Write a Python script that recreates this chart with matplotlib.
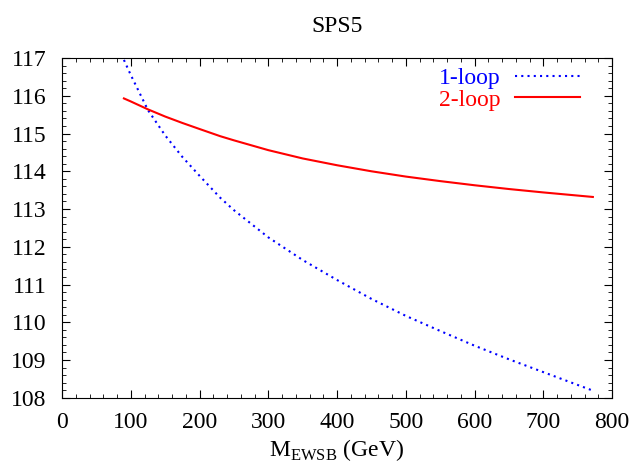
import numpy as np
import matplotlib.pyplot as plt
from matplotlib.ticker import MultipleLocator

plt.rcParams['font.family'] = ['Liberation Serif', 'DejaVu Serif']

# M_EWSB (GeV)
m_ewsb = [90, 100, 125, 150, 175, 200, 230, 250, 300, 350, 400, 450, 500,
          550, 600, 650, 700, 772]
# light Higgs mass (GeV)
one_loop = [116.95, 116.55, 115.62, 114.95, 114.38, 113.88, 113.3, 112.97,
            112.25, 111.65, 111.12, 110.62, 110.17, 109.77, 109.38, 109.02,
            108.68, 108.19]
two_loop = [115.93, 115.85, 115.64, 115.45, 115.28, 115.12, 114.93, 114.82,
            114.56, 114.34, 114.16, 114.0, 113.86, 113.74, 113.63, 113.53,
            113.44, 113.32]

fig = plt.figure(figsize=(6.33, 4.68), dpi=100)
ax = fig.add_axes([0.098, 0.150, 0.869, 0.726])

ax.plot(m_ewsb, one_loop, color='blue', linestyle=(0, (1, 2)), lw=1.5, label='1-loop')
ax.plot(m_ewsb, two_loop, color='red', lw=1.5, label='2-loop')

ax.set_xlim(0, 800)
ax.set_ylim(108, 117)
ax.xaxis.set_major_locator(MultipleLocator(100))
ax.xaxis.set_minor_locator(MultipleLocator(20))
ax.yaxis.set_major_locator(MultipleLocator(1))
ax.yaxis.set_minor_locator(MultipleLocator(0.2))
ax.tick_params(which='both', direction='in', top=True, right=True, labelsize=17)
ax.tick_params(which='major', length=6)
ax.tick_params(which='minor', length=3)
ax.tick_params(axis='x', pad=10)
ax.tick_params(axis='y', pad=11)

ax.set_title('SPS5', fontsize=17, pad=19)
ax.set_xlabel(r'M$_{\mathregular{EWSB}}$ (GeV)', fontsize=17, labelpad=3)

leg = ax.legend(loc='upper right', frameon=False, markerfirst=False,
                labelcolor='linecolor', fontsize=17, handlelength=2.75,
                handletextpad=0.64, borderaxespad=0.0, labelspacing=0.0,
                bbox_to_anchor=(0.959, 1.0))

fig.savefig('out.png', dpi=100)
